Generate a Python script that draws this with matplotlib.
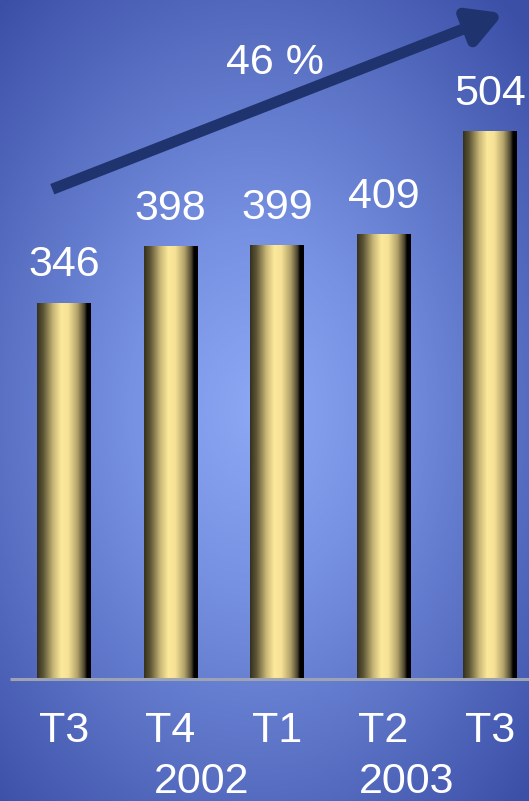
import numpy as np
import matplotlib.pyplot as plt
from matplotlib.colors import LinearSegmentedColormap

quarters = ["T3", "T4", "T1", "T2", "T3"]
values = [346, 398, 399, 409, 504]
years = ["2002", "2003"]
year_pos = [1.296, 3.22]
growth_label = "46 %"

plt.rcParams["font.family"] = ["Liberation Sans", "DejaVu Sans"]

fig = plt.figure(figsize=(5.29, 8.01), dpi=100)
ax = fig.add_axes([0, 0, 1, 1])
xlim = (-0.601, 4.366)
ylim = (-112.3, 625.2)
ax.set_xlim(xlim)
ax.set_ylim(ylim)
ax.axis("off")

# radial blue background
bg_cmap = LinearSegmentedColormap.from_list("bg", ["#8ca8f4", "#7791e2", "#5a71c4", "#3c50a8"])
yy, xx = np.mgrid[0:801, 0:529]
r = np.sqrt(((xx - 255) / 380.0) ** 2 + ((yy - 410) / 540.0) ** 2)
ax.imshow(np.clip(r, 0, 1), cmap=bg_cmap, extent=(*xlim, ylim[0], ylim[1]),
          origin="upper", aspect="auto", zorder=0)

# golden cylinder bars
bar_cmap = LinearSegmentedColormap.from_list("gold", [
    (0.0, "#34301c"), (0.12, "#5e5636"), (0.3, "#c7b676"), (0.45, "#fde99a"),
    (0.58, "#f6e196"), (0.75, "#b3a36a"), (0.88, "#4c4630"), (0.93, "#000000"),
    (1.0, "#000000")])
grad = np.linspace(0, 1, 256).reshape(1, -1)
w = 0.507
for i, v in enumerate(values):
    ax.imshow(grad, cmap=bar_cmap, extent=(i - w / 2, i + w / 2, 0, v),
              aspect="auto", zorder=2)
    ax.annotate(str(v), (i, v), xytext=(0, 13), textcoords="offset points",
                ha="center", va="bottom", color="white", fontsize=31, zorder=4)
    ax.text(i, -48, quarters[i], ha="center", va="center", color="white", fontsize=31)

for x, y in zip(year_pos, years):
    ax.text(x, -104.5, y, ha="center", va="baseline", color="white", fontsize=31)

# baseline
ax.plot([-0.51, xlim[1]], [0, 0], color="#9ea3b4", lw=2.2, zorder=3,
        solid_capstyle="butt")

# growth arrow
ax.annotate("", xy=(4.13, 613), xytext=(-0.11, 451),
            arrowprops=dict(arrowstyle="-|>,head_length=2.0,head_width=1.1",
                            color="#1f336e", lw=8, shrinkA=0, shrinkB=0,
                            capstyle="butt"), zorder=3)
ax.text(1.98, 567, growth_label, ha="center", va="center", color="white",
        fontsize=31, zorder=4)

fig.savefig("out.png", dpi=100)
